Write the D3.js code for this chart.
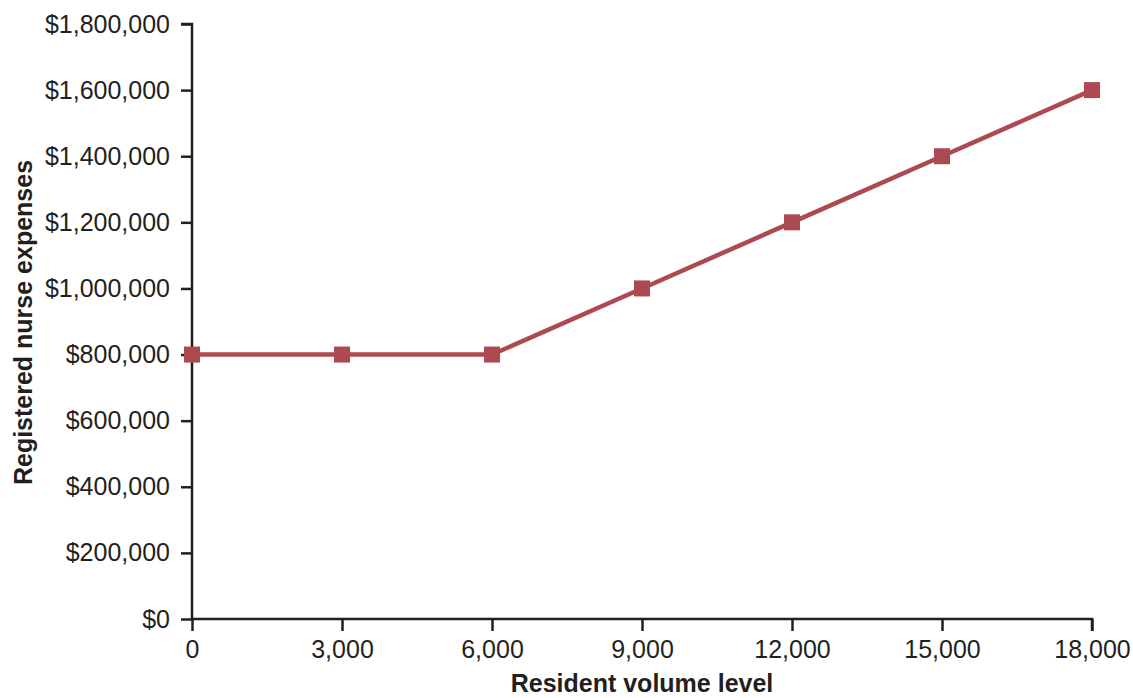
<!DOCTYPE html>
<html>
<head>
<meta charset="utf-8">
<script src="https://cdn.jsdelivr.net/npm/d3@7"></script>
<style>
  html, body { margin: 0; padding: 0; background: #fff; }
  svg { display: block; font-family: "Liberation Sans", Arial, Helvetica, sans-serif; }
</style>
</head>
<body>
<svg id="chart" width="1133" height="698"></svg>
<script>
// Resident volume levels and the registered nurse expense at each level
const volumeLevels = [0, 3000, 6000, 9000, 12000, 15000, 18000];
const nurseExpenses = [800000, 800000, 800000, 1000000, 1200000, 1400000, 1600000];
const xTickValues = [0, 3000, 6000, 9000, 12000, 15000, 18000];
const yTickValues = [0, 200000, 400000, 600000, 800000, 1000000, 1200000, 1400000, 1600000, 1800000];
const xTitle = "Resident volume level";
const yTitle = "Registered nurse expenses";

const svg = d3.select("#chart");
const margin = { left: 192, right: 41, top: 24, bottom: 79 };
const width = 1133, height = 698;
const ink = "#231f20";
const lineColor = "#ad4a51";

const x = d3.scaleLinear().domain([0, 18000]).range([margin.left, width - margin.right]);
const y = d3.scaleLinear().domain([0, 1800000]).range([height - margin.bottom, margin.top]);

// Y axis
const yAxis = svg.append("g")
  .attr("transform", `translate(${margin.left},0)`)
  .call(d3.axisLeft(y).tickValues(yTickValues).tickSize(11).tickPadding(11)
    .tickFormat(d => "$" + d3.format(",")(d)));
yAxis.select(".domain").attr("stroke", ink).attr("stroke-width", 2.5).attr("d", `M-11,${y(1800000)}H0V${y(0)}`);
yAxis.selectAll(".tick line").attr("stroke", ink).attr("stroke-width", 2.5);
yAxis.selectAll(".tick text").attr("fill", ink).style("font-size", "25px");

// X axis
const xAxis = svg.append("g")
  .attr("transform", `translate(0,${y(0)})`)
  .call(d3.axisBottom(x).tickValues(xTickValues).tickSize(12).tickPadding(9)
    .tickFormat(d => d3.format(",")(d)));
xAxis.select(".domain").attr("stroke", ink).attr("stroke-width", 2.5).attr("d", `M${x(0)},0H${x(18000)}V12`);
xAxis.selectAll(".tick line").attr("stroke", ink).attr("stroke-width", 2.5);
xAxis.selectAll(".tick text").attr("fill", ink).style("font-size", "25px");

// Axis titles
svg.append("text")
  .attr("x", (x(0) + x(18000)) / 2)
  .attr("y", 692)
  .attr("text-anchor", "middle")
  .attr("fill", ink)
  .style("font-size", "25px")
  .style("font-weight", "bold")
  .text(xTitle);

svg.append("text")
  .attr("transform", `translate(32,${(y(0) + y(1800000)) / 2 + 1}) rotate(-90)`)
  .attr("text-anchor", "middle")
  .attr("fill", ink)
  .style("font-size", "25px")
  .style("font-weight", "bold")
  .text(yTitle);

// Expense line with square markers
const data = volumeLevels.map((v, i) => ({ v, e: nurseExpenses[i] }));
svg.append("path")
  .datum(data)
  .attr("fill", "none")
  .attr("stroke", lineColor)
  .attr("stroke-width", 4.5)
  .attr("d", d3.line().x(d => x(d.v)).y(d => y(d.e)));

const size = 16;
svg.selectAll("rect.marker")
  .data(data)
  .enter().append("rect")
  .attr("class", "marker")
  .attr("x", d => x(d.v) - size / 2)
  .attr("y", d => y(d.e) - size / 2)
  .attr("width", size)
  .attr("height", size)
  .attr("fill", lineColor);
</script>
</body>
</html>
